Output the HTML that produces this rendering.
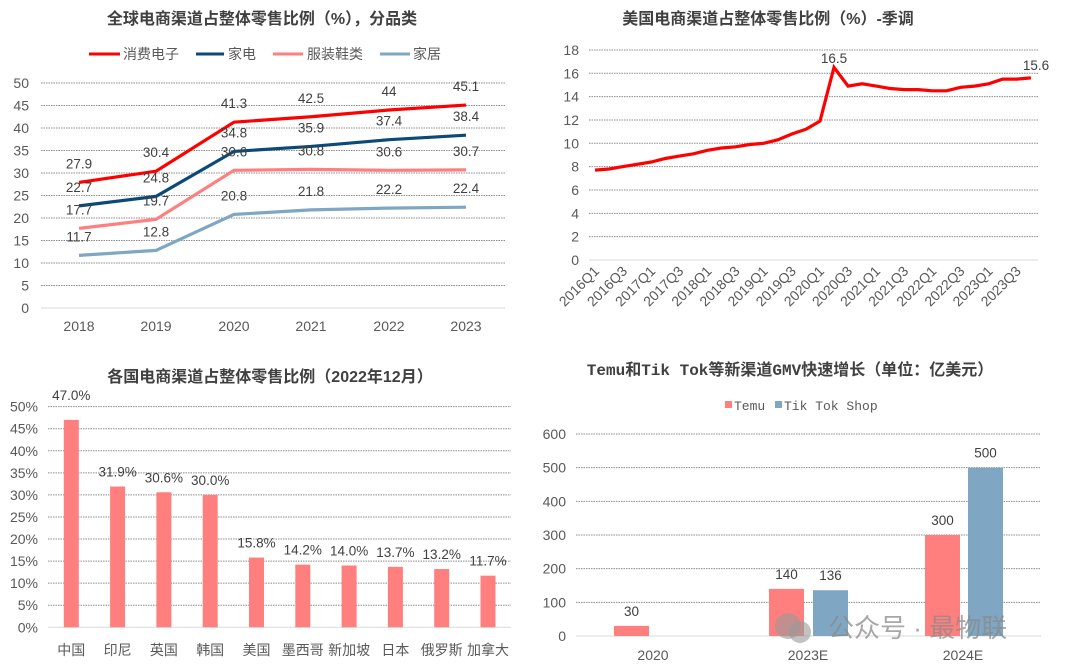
<!DOCTYPE html>
<html><head><meta charset="utf-8"><style>
body{margin:0;background:#fff;}
svg{display:block;font-family:"Liberation Sans","Noto Sans CJK SC",sans-serif;}
.t{font-size:16px;font-weight:bold;fill:#404040;text-anchor:middle;}
.ax{font-size:14px;fill:#595959;}
.lb{font-size:13.5px;fill:#404040;text-anchor:middle;}
.g{stroke:#8c8c8c;stroke-width:1;stroke-dasharray:1.5 1;}
</style></head><body>
<svg width="1080" height="669" viewBox="0 0 1080 669">
<rect width="1080" height="669" fill="#fff"/>
<text class="t" x="262" y="24">全球电商渠道占整体零售比例（%），分品类</text>
<g font-size="14" fill="#595959">
<line x1="89" y1="54" x2="120" y2="54" stroke="#ff0000" stroke-width="3"/><text x="123" y="59">消费电子</text>
<line x1="196" y1="54" x2="224" y2="54" stroke="#0b4a78" stroke-width="3"/><text x="228" y="59">家电</text>
<line x1="273" y1="54" x2="303" y2="54" stroke="#ff7f7f" stroke-width="3"/><text x="307" y="59">服装鞋类</text>
<line x1="380" y1="54" x2="410" y2="54" stroke="#7fa6c2" stroke-width="3"/><text x="413" y="59">家居</text>
</g>
<text class="t" x="768" y="24">美国电商渠道占整体零售比例（%）-季调</text>
<text class="t" x="270" y="382">各国电商渠道占整体零售比例（2022年12月）</text>
<text class="t" x="790" y="375" style="font-family:'Liberation Mono','Noto Sans CJK SC',monospace">Temu和Tik Tok等新渠道GMV快速增长（单位：亿美元）</text>
<rect x="725" y="401" width="7" height="7" fill="#ff7f7f"/><text x="734" y="410" font-size="13" fill="#595959" style="font-family:'Liberation Mono',monospace">Temu</text>
<rect x="775" y="401" width="7" height="7" fill="#7fa6c2"/><text x="784" y="410" font-size="13" fill="#595959" style="font-family:'Liberation Mono',monospace">Tik Tok Shop</text>
<g id="dyn"></g>
</svg>
<script>
var s='';
function L(x1,y1,x2,y2,c){s+='<line x1="'+x1+'" y1="'+y1+'" x2="'+x2+'" y2="'+y2+'" class="'+c+'"/>';}
function T(x,y,t,c,a){s+='<text x="'+x+'" y="'+y+'" class="'+c+'"'+(a||'')+'>'+t+'</text>';}
for(var v=0;v<=50;v+=5){var y=308-v*4.5;if(v>0)L(41,y,505,y,'g');else s+='<line x1="41" y1="308" x2="505" y2="308" stroke="#d9d9d9"/>';T(29,y+5,v,'ax',' text-anchor="end"');}
var xs=[79,156,234,311,389,466],yrs=[2018,2019,2020,2021,2022,2023];
for(var i=0;i<6;i++)T(xs[i],331,yrs[i],'ax',' text-anchor="middle"');
var ser=[[[27.9,30.4,41.3,42.5,44,45.1],'#ff0000'],[[22.7,24.8,34.8,35.9,37.4,38.4],'#0b4a78'],[[17.7,19.7,30.6,30.8,30.6,30.7],'#ff7f7f'],[[11.7,12.8,20.8,21.8,22.2,22.4],'#7fa6c2']];
ser.forEach(function(se){var p=se[0].map(function(v,i){return xs[i]+','+(308-v*4.5)}).join(' ');s+='<polyline points="'+p+'" fill="none" stroke="'+se[1]+'" stroke-width="3.2"/>';});
ser.forEach(function(se){se[0].forEach(function(v,i){T(xs[i],308-v*4.5-14,v,'lb');});});
for(var v=0;v<=18;v+=2){var y=260-v*11.67;if(v>0)L(589,y,1038,y,'g');else s+='<line x1="589" y1="260" x2="1038" y2="260" stroke="#d9d9d9"/>';T(579,y+5,v,'ax',' text-anchor="end"');}
var us=[7.7,7.8,8.0,8.2,8.4,8.7,8.9,9.1,9.4,9.6,9.7,9.9,10.0,10.3,10.8,11.2,11.9,16.5,14.9,15.1,14.9,14.7,14.6,14.6,14.5,14.5,14.8,14.9,15.1,15.5,15.5,15.6];
s+='<polyline points="'+us.map(function(v,i){return (595+i*14.06).toFixed(1)+','+(260-v*11.67).toFixed(1)}).join(' ')+'" fill="none" stroke="#ff0000" stroke-width="3.2"/>';
T(834,63,'16.5','lb');T(1036,70,'15.6','lb');
for(var i=0;i<32;i+=2){var x=595+i*14.06,yr=2016+Math.floor(i/4),q=(i%4==0)?'Q1':'Q3';s+='<text x="'+(x+5)+'" y="272" class="ax" text-anchor="end" transform="rotate(-45 '+(x+5)+' 272)">'+yr+q+'</text>';}
for(var v=0;v<=50;v+=5){var y=627.3-v*4.413;if(v>0)L(48,y,511,y,'g');else s+='<line x1="48" y1="627.3" x2="511" y2="627.3" stroke="#d9d9d9"/>';T(38,y+5,v+'%','ax',' text-anchor="end"');}
var cv=[47.0,31.9,30.6,30.0,15.8,14.2,14.0,13.7,13.2,11.7],cn=['中国','印尼','英国','韩国','美国','墨西哥','新加坡','日本','俄罗斯','加拿大'];
for(var i=0;i<10;i++){var cx=71.3+i*46.3,h=cv[i]*4.413;s+='<rect x="'+(cx-7.5)+'" y="'+(627.3-h)+'" width="15" height="'+h+'" fill="#ff7f7f"/>';T(cx,627.3-h-10-(i==0?10:0),cv[i].toFixed(1)+'%','lb');T(cx,655,cn[i],'ax',' text-anchor="middle" font-size="14"');}
for(var v=0;v<=600;v+=100){var y=636-v*0.3367;if(v>0)L(576,y,1041,y,'g');else s+='<line x1="576" y1="636" x2="1041" y2="636" stroke="#d9d9d9"/>';T(566,y+5,v,'ax',' text-anchor="end"');}
var bars=[[614,30,'#ff7f7f'],[769,140,'#ff7f7f'],[813,136,'#7fa6c2'],[925,300,'#ff7f7f'],[968,500,'#7fa6c2']];
bars.forEach(function(b){var h=b[1]*0.3367;s+='<rect x="'+b[0]+'" y="'+(636-h)+'" width="35" height="'+h+'" fill="'+b[2]+'"/>';T(b[0]+17.5,636-h-10,b[1],'lb');});
[[653,'2020'],[808,'2023E'],[963,'2024E']].forEach(function(c){T(c[0],660,c[1],'ax',' text-anchor="middle"');});
s+='<circle cx="788" cy="626" r="13" fill="#9a9a9a" opacity="0.6"/><circle cx="800" cy="632" r="11" fill="#9a9a9a" opacity="0.6"/>';
s+='<text x="828" y="637" font-size="26" fill="#8a8a8a" opacity="0.75">公众号 · 最物联</text>';
document.getElementById('dyn').outerHTML=s;
</script>
</body></html>
